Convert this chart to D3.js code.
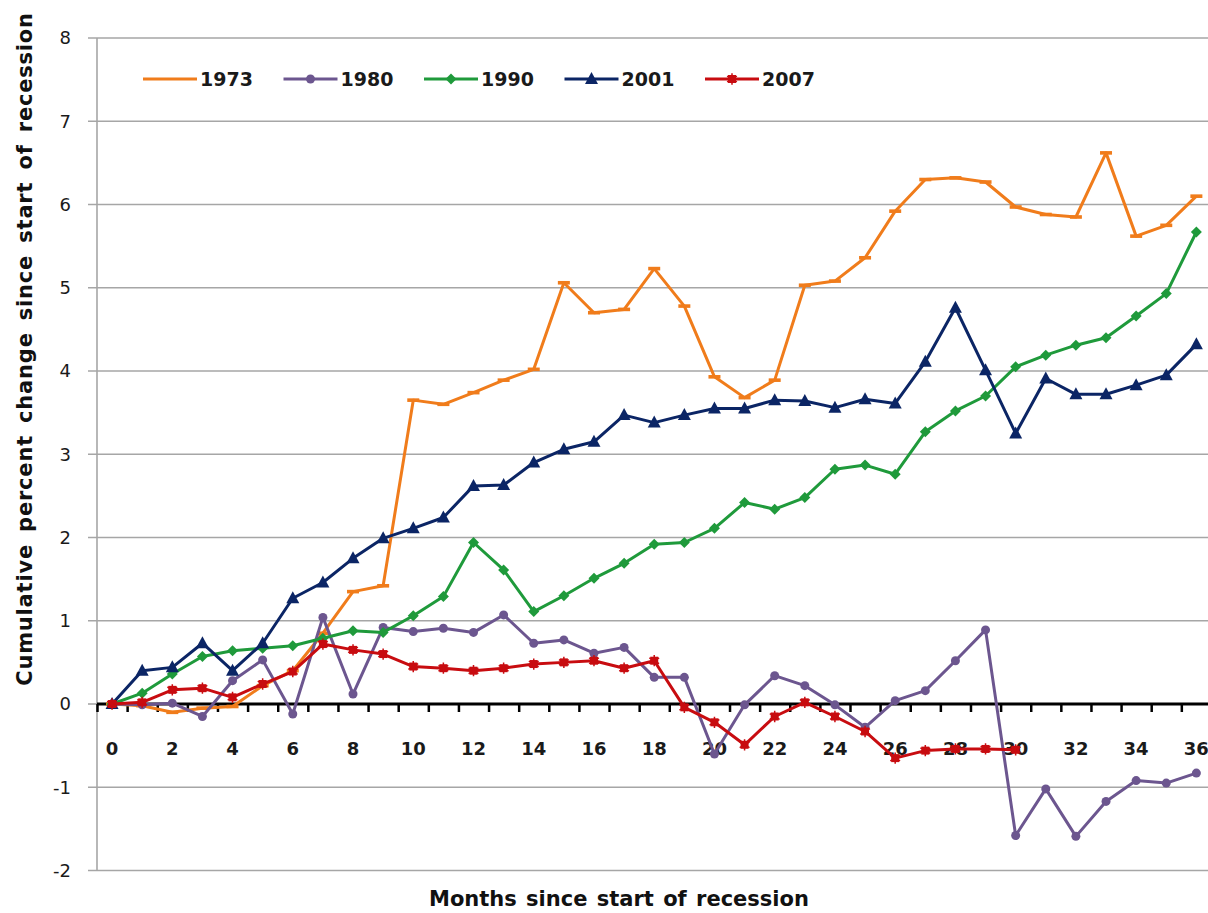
<!DOCTYPE html>
<html>
<head>
<meta charset="utf-8">
<script src="https://d3js.org/d3.v7.min.js"></script>
<style>
  body { margin: 0; background: #fff; }
  svg { display: block; }
</style>
</head>
<body>
<script>
// months since start of recession
var months = d3.range(0, 37);
var xTickLabels = d3.range(0, 37, 2);
var yTickValues = [-2, -1, 0, 1, 2, 3, 4, 5, 6, 7, 8];

// cumulative percent change
var s1973 = [0, -0.02, -0.1, -0.05, -0.03, 0.22, 0.4, 0.85, 1.35, 1.42, 3.65, 3.6, 3.74, 3.89, 4.02, 5.06, 4.7, 4.74,
    5.23, 4.78, 3.93, 3.68, 3.89, 5.03, 5.08, 5.36, 5.92, 6.3, 6.32, 6.27, 5.97, 5.88, 5.85, 6.62, 5.62, 5.75, 6.1];
var s1980 = [0, -0.01, 0.01, -0.15, 0.28, 0.53, -0.12, 1.04, 0.12, 0.92, 0.87, 0.91, 0.86, 1.07, 0.73, 0.77, 0.61, 0.68,
    0.32, 0.32, -0.6, -0.01, 0.34, 0.22, -0.01, -0.28, 0.04, 0.16, 0.52, 0.89, -1.58, -1.02, -1.59, -1.17, -0.92, -0.95, -0.83];
var s1990 = [0, 0.13, 0.36, 0.57, 0.64, 0.67, 0.7, 0.79, 0.88, 0.86, 1.06, 1.29, 1.94, 1.61, 1.11, 1.3, 1.51, 1.69,
    1.92, 1.94, 2.11, 2.42, 2.34, 2.48, 2.82, 2.87, 2.76, 3.27, 3.52, 3.7, 4.05, 4.19, 4.31, 4.4, 4.66, 4.93, 5.67];
var s2001 = [0, 0.4, 0.44, 0.73, 0.4, 0.73, 1.27, 1.46, 1.75, 1.99, 2.11, 2.24, 2.62, 2.63, 2.9, 3.06, 3.15, 3.47,
    3.38, 3.47, 3.55, 3.55, 3.65, 3.64, 3.56, 3.66, 3.61, 4.11, 4.76, 4.01, 3.25, 3.91, 3.72, 3.72, 3.83, 3.95, 4.32];
var s2007 = [0, 0.02, 0.17, 0.19, 0.08, 0.24, 0.39, 0.72, 0.65, 0.6, 0.45, 0.43, 0.4, 0.43, 0.48, 0.5, 0.52, 0.43,
    0.52, -0.04, -0.22, -0.49, -0.15, 0.02, -0.15, -0.33, -0.65, -0.56, -0.54, -0.54, -0.55];

var seriesNames = ["1973", "1980", "1990", "2001", "2007"];
var seriesColors = ["#f07c1b", "#6c568f", "#1f9a3b", "#0b2565", "#c80c10"];
var seriesMarkers = ["dash", "circle", "diamond", "triangle", "star"];
var seriesData = [s1973, s1980, s1990, s2001, s2007];

var width = 1208,
    height = 913;

var svg = d3.select("body").append("svg")
    .attr("width", width)
    .attr("height", height);

// scales: each month is one category, points sit in the middle of it
var x = d3.scaleLinear().domain([-0.5, 36.5]).range([97, 97 + 37 * 30.12]);
var y = d3.scaleLinear().domain([-2, 8]).range([870.5, 38]);

// gridlines + y ticks
svg.append("g")
    .attr("class", "grid")
    .selectAll("line")
    .data(yTickValues.filter(function (d) { return d !== 0; }))
    .enter().append("line")
    .attr("x1", 88)
    .attr("x2", width)
    .attr("y1", function (d) { return y(d); })
    .attr("y2", function (d) { return y(d); })
    .style("stroke", "#a6a6a6")
    .style("stroke-width", "1.6px");

// y axis line
svg.append("line")
    .attr("x1", 97).attr("x2", 97)
    .attr("y1", y(8)).attr("y2", y(-2))
    .style("stroke", "#a6a6a6")
    .style("stroke-width", "1.6px");

svg.append("line")
    .attr("x1", 88).attr("x2", 97)
    .attr("y1", y(0)).attr("y2", y(0))
    .style("stroke", "#a6a6a6")
    .style("stroke-width", "1.6px");

// y tick labels
svg.append("g")
    .selectAll("text")
    .data(yTickValues)
    .enter().append("text")
    .attr("x", 71)
    .attr("y", function (d) { return y(d); })
    .attr("dy", "0.36em")
    .attr("text-anchor", "end")
    .style("font-family", "DejaVu Sans, sans-serif")
    .style("font-size", "18px")
    .style("fill", "#1a1a1a")
    .text(function (d) { return d; });

// zero axis with category ticks
var xAxis = d3.axisBottom(x)
    .tickValues(d3.range(-0.5, 37, 1))
    .tickSize(8)
    .tickSizeOuter(0)
    .tickFormat("");

var axisG = svg.append("g")
    .attr("transform", "translate(0," + y(0) + ")")
    .call(xAxis);
axisG.select(".domain")
    .attr("d", "M97,0H" + width)
    .style("stroke", "#000")
    .style("stroke-width", "3px");
axisG.selectAll(".tick line")
    .style("stroke", "#000")
    .style("stroke-width", "2.5px");

// month labels
svg.append("g")
    .selectAll("text")
    .data(xTickLabels)
    .enter().append("text")
    .attr("x", function (d) { return x(d); })
    .attr("y", 755)
    .attr("text-anchor", "middle")
    .style("font-family", "DejaVu Sans, sans-serif")
    .style("font-weight", "bold")
    .style("font-size", "18px")
    .style("fill", "#1a1a1a")
    .text(function (d) { return d; });

// draw a marker of the given type
function drawMarker(g, type, color) {
    if (type === "dash") {
        g.append("rect").attr("x", -6).attr("y", -1.8).attr("width", 12).attr("height", 3.6).style("fill", color);
    } else if (type === "circle") {
        g.append("circle").attr("r", 4.5).style("fill", color);
    } else if (type === "diamond") {
        g.append("path").attr("d", "M0,-5.5L5.5,0L0,5.5L-5.5,0Z").style("fill", color);
    } else if (type === "triangle") {
        g.append("path").attr("d", "M0,-7L6.5,5L-6.5,5Z").style("fill", color);
    } else if (type === "star") {
        g.append("rect").attr("x", -4).attr("y", -4).attr("width", 8).attr("height", 8).style("fill", color);
        g.append("path").attr("d", d3.symbol().type(d3.symbolAsterisk).size(90)())
            .style("stroke", color).style("stroke-width", "1.5px");
    }
}

var line = d3.line()
    .x(function (d, i) { return x(months[i]); })
    .y(function (d) { return y(d); });

// series
seriesData.forEach(function (data, k) {
    var g = svg.append("g").attr("class", "series s" + seriesNames[k]);
    g.append("path")
        .datum(data)
        .attr("d", line)
        .style("fill", "none")
        .style("stroke", seriesColors[k])
        .style("stroke-width", "3px")
        .style("stroke-linejoin", "round");
    g.selectAll("g.marker")
        .data(data)
        .enter().append("g")
        .attr("class", "marker")
        .attr("transform", function (d, i) { return "translate(" + x(months[i]) + "," + y(d) + ")"; })
        .each(function () { drawMarker(d3.select(this), seriesMarkers[k], seriesColors[k]); });
});

// legend
var legend = svg.append("g").attr("class", "legend");
seriesNames.forEach(function (name, k) {
    var lx = 143 + k * 140.5;
    var item = legend.append("g").attr("transform", "translate(" + lx + ",79)");
    item.append("line")
        .attr("x1", 0).attr("x2", 54)
        .style("stroke", seriesColors[k])
        .style("stroke-width", "3px");
    if (seriesMarkers[k] !== "dash") {
        var m = item.append("g").attr("transform", "translate(27,0)");
        drawMarker(m, seriesMarkers[k], seriesColors[k]);
    }
    item.append("text")
        .attr("x", 57)
        .attr("y", 7)
        .style("font-family", "DejaVu Sans, sans-serif")
        .style("font-weight", "bold")
        .style("font-size", "19px")
        .style("fill", "#1a1a1a")
        .text(name);
});

// axis titles
svg.append("text")
    .attr("x", 619)
    .attr("y", 906)
    .attr("text-anchor", "middle")
    .style("font-family", "DejaVu Sans, sans-serif")
    .style("font-weight", "bold")
    .style("font-size", "21px")
    .style("word-spacing", "2px")
    .style("fill", "#111")
    .text("Months since start of recession");

svg.append("text")
    .attr("transform", "translate(32,349) rotate(-90)")
    .attr("text-anchor", "middle")
    .style("font-family", "DejaVu Sans, sans-serif")
    .style("font-weight", "bold")
    .style("font-size", "21px")
    .style("word-spacing", "4px")
    .style("letter-spacing", "0.8px")
    .style("fill", "#111")
    .text("Cumulative percent change since start of recession");
</script>
</body>
</html>
